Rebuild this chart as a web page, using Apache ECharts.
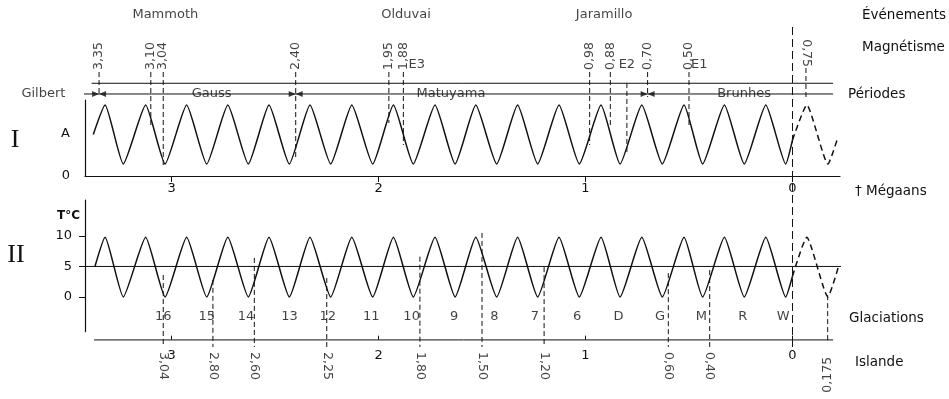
<!DOCTYPE html>
<html>
<head>
<meta charset="utf-8">
<title>Cycles climatiques et magnétisme</title>
<script src="https://cdn.jsdelivr.net/npm/echarts@6.0.0/dist/echarts.min.js"></script>
<style>
  html, body { margin: 0; padding: 0; background: #fff; }
  #chart { width: 949px; height: 399px; }
</style>
</head>
<body>
<div id="chart"></div>
<script>
// ages in millions of years (0 = present, negative = after the 0 line)
const ageTicks = [3, 2, 1, 0]
const crestAges = [3.321, 3.125, 2.927, 2.728, 2.529, 2.331, 2.129, 1.928, 1.727, 1.53, 1.328, 1.128, 0.925, 0.728, 0.524, 0.329, 0.129]
const troughAges = [3.233, 3.031, 2.83, 2.629, 2.431, 2.231, 2.028, 1.832, 1.63, 1.429, 1.231, 1.03, 0.833, 0.629, 0.434, 0.233, 0.033]
const futureAges = [-0.069, -0.171, -0.22] // dashed part: crest, trough, end

// curve I (amplitude A, 0..1) and curve II (T °C)
const ampLevels = { start: 0.546, crest: 0.934, trough: 0.158, now: 0.474, end: 0.513 }
const tempLevels = { start: 5, crest: 9.8, trough: 0, now: 3.4, end: 4.75 }
const startAges = [3.378, 3.37]

// magnétisme
const magAges = [3.35, 3.10, 3.04, 2.40, 1.95, 1.88, 0.98, 0.88, 0.70, 0.50]
const magLabels = ['3,35', '3,10', '3,04', '2,40', '1,95', '1,88', '0,98', '0,88', '0,70', '0,50']
const magLineEnds = [1.066, 0.645, 0.118, 0.21, 0.697, 0.408, 0.408, 0.671, 1.04, 0.645]
const futureMag = { age: -0.065, label: '0,75' }

// événements
const eventNames = ['Mammoth', 'Olduvai', 'Jaramillo']
const eventAges = [3.03, 1.867, 0.91]
const eNames = ['E3', 'E2', 'E1']
const eAges = [1.815, 0.80, 0.45]

// périodes
const periodNames = ['Gilbert', 'Gauss', 'Matuyama', 'Brunhes']
const periodAges = [3.619, 2.806, 1.65, 0.234]
const periodBounds = [3.35, 2.40, 0.70]

// glaciations
const glacNames = ['16', '15', '14', '13', '12', '11', '10', '9', '8', '7', '6', 'D', 'G', 'M', 'R', 'W']
const glacAges = [3.04, 2.83, 2.64, 2.43, 2.245, 2.035, 1.84, 1.635, 1.44, 1.245, 1.04, 0.84, 0.64, 0.44, 0.24, 0.045]

// Islande
const islandAges = [3.04, 2.80, 2.60, 2.25, 1.80, 1.50, 1.20, 0.60, 0.40]
const islandLabels = ['3,04', '2,80', '2,60', '2,25', '1,80', '1,50', '1,20', '0,60', '0,40']
const islandTops = [3.6, 2.8, 6.4, 3.1, 6.6, 10.5, 4.9, 3.9, 4.4]
const futureIsland = { age: -0.17, label: '0,175', top: 0.3 }

const ink = '#111'
const font = 'DejaVu Sans'

function wave (lv, startAge) {
  const pts = [[startAge, lv.start]]
  crestAges.forEach((a, i) => {
    pts.push([a, lv.crest])
    pts.push([troughAges[i], lv.trough])
  })
  pts.push([0, lv.now])
  return pts
}
function futureWave (lv) {
  return [[0, lv.now], [futureAges[0], lv.crest], [futureAges[1], lv.trough], [futureAges[2], lv.end]]
}

function seg (g, pts, type, width) {
  return {
    type: 'line', xAxisIndex: g, yAxisIndex: g, data: pts, symbol: 'none', clip: false, silent: true,
    lineStyle: { color: ink, width: width || 1, type: type || 'solid' }
  }
}
function curve (g, pts, type) {
  const s = seg(g, pts, type, 1.5)
  s.smooth = 0.17
  return s
}
function texts (g, items, label) {
  return {
    type: 'scatter', xAxisIndex: g, yAxisIndex: g, data: items, symbolSize: 1, clip: false, silent: true,
    itemStyle: { color: 'rgba(0,0,0,0)' },
    label: Object.assign({ show: true, position: 'inside', formatter: '{b}', color: ink, fontFamily: font, fontSize: 13 }, label)
  }
}

const chart = echarts.init(document.getElementById('chart'))

const series = []
// ---- I
series.push(seg(0, [[3.386, 1.22], [-0.196, 1.22]]))
series.push(seg(0, [[3.48, 1.079], [-0.196, 1.079]]))
magAges.forEach((a, i) => series.push(seg(0, [[a, 1.368], [a, magLineEnds[i]]], [5, 3])))
series.push(seg(0, [[eAges[1], 1.224], [eAges[1], 0.303]], [5, 3]))
series.push(seg(0, [[futureMag.age, 1.421], [futureMag.age, 1.0]], [5, 3]))
series.push(seg(0, [[0, 1.961], [0, -2.289]], [8, 4]))
series.push(curve(0, wave(ampLevels, startAges[0])))
series.push(curve(0, futureWave(ampLevels), [6, 4]))
series.push(texts(0, magAges.map((a, i) => ({ name: magLabels[i], value: [a, 1.395] })),
  { rotate: 90, align: 'left', verticalAlign: 'middle', fontSize: 12.5 }))
series.push(texts(0, [{ name: futureMag.label, value: [futureMag.age, 1.434] }],
  { rotate: -90, align: 'right', verticalAlign: 'middle', fontSize: 12.5 }))
series.push(texts(0, eventNames.map((n, i) => ({ name: n, value: [eventAges[i], 2.118] }))))
series.push(texts(0, eNames.map((n, i) => ({ name: n, value: [eAges[i], 1.46] }))))
series.push(texts(0, periodNames.map((n, i) => ({ name: n, value: [periodAges[i], 1.079] })),
  { backgroundColor: '#fff', padding: [0, 2] }))
series.push({
  type: 'scatter', xAxisIndex: 0, yAxisIndex: 0, clip: false, silent: true,
  symbol: 'triangle', symbolSize: [6, 7], itemStyle: { color: ink },
  data: periodBounds.flatMap(a => [
    { value: [a, 1.079], symbolRotate: -90, symbolOffset: [-3.5, 0] },
    { value: [a, 1.079], symbolRotate: 90, symbolOffset: [3.5, 0] }
  ])
})

// ---- II
series.push(seg(1, [[3.452, 5], [-0.268, 5]]))
series.push(seg(1, [[3.374, -7.05], [-0.196, -7.05]]))
islandAges.forEach((a, i) => series.push(seg(1, [[a, islandTops[i]], [a, -8.2]], [5, 3])))
series.push(seg(1, [[futureIsland.age, futureIsland.top], [futureIsland.age, -7.4]], [5, 3]))
series.push(curve(1, wave(tempLevels, startAges[1])))
series.push(curve(1, futureWave(tempLevels), [6, 4]))
series.push(texts(1, glacNames.map((n, i) => ({ name: n, value: [glacAges[i], -3.3] }))))
series.push(texts(1, islandAges.map((a, i) => ({ name: islandLabels[i], value: [a, -9.04] })),
  { rotate: -90, align: 'left', verticalAlign: 'middle', fontSize: 12.5 }))
series.push(texts(1, [{ name: futureIsland.label, value: [futureIsland.age, -15.7] }],
  { rotate: 90, align: 'left', verticalAlign: 'middle', fontSize: 12.5 }))

const axisText = { color: ink, fontFamily: font, fontSize: 13 }
const xBase = {
  type: 'value', inverse: true, min: -0.2295, max: 3.418,
  splitLine: { show: false }
}

const rowTitles = [
  ['Événements', 862, 15], ['Magnétisme', 862, 47], ['Périodes', 848, 94],
  ['† Mégaans', 855, 191], ['Glaciations', 849, 318], ['Islande', 855, 362]
]

chart.setOption({
  animation: false,
  backgroundColor: '#fff',
  grid: [
    { left: 85, right: 109, top: 100, height: 76 },
    { left: 85, right: 109, top: 200, height: 131.7 }
  ],
  xAxis: [
    Object.assign({}, xBase, {
      gridIndex: 0,
      axisLine: { onZero: false, lineStyle: { color: ink, width: 1.2 } },
      axisTick: { customValues: ageTicks, length: 6, lineStyle: { color: ink } },
      axisLabel: Object.assign({ customValues: ageTicks, margin: 6 }, axisText)
    }),
    Object.assign({}, xBase, {
      gridIndex: 1, offset: 8,
      axisLine: { show: false, onZero: false },
      axisTick: { customValues: ageTicks, inside: true, length: 4, lineStyle: { color: ink } },
      axisLabel: Object.assign({ customValues: ageTicks, margin: 9 }, axisText)
    })
  ],
  yAxis: [
    {
      type: 'value', gridIndex: 0, min: 0, max: 1,
      splitLine: { show: false },
      axisLine: { show: true, onZero: false, lineStyle: { color: ink, width: 1.2 } },
      axisTick: { show: false },
      axisLabel: Object.assign({ customValues: [0, 0.56], margin: 15, formatter: v => (v < 0.1 ? '0' : 'A') }, axisText)
    },
    {
      type: 'value', gridIndex: 1, min: -5.7, max: 15.9,
      splitLine: { show: false },
      axisLine: { show: true, onZero: false, lineStyle: { color: ink, width: 1.2 } },
      axisTick: { customValues: [0, 5, 10], length: 6, lineStyle: { color: ink } },
      axisLabel: Object.assign({ customValues: [0, 5, 10], margin: 13 }, axisText)
    }
  ],
  graphic: [
    ...rowTitles.map(([t, x, y]) => ({
      type: 'text', x, y, silent: true,
      style: { text: t, fill: ink, font: '13.5px "DejaVu Sans"', verticalAlign: 'middle', align: 'left' }
    })),
    { type: 'text', x: 80, y: 216, style: { text: 'T°C', fill: ink, font: 'bold 12px "DejaVu Sans"', align: 'right', verticalAlign: 'middle' } },
    { type: 'text', x: 15, y: 140, style: { text: 'I', fill: ink, font: '26px "Liberation Serif"', align: 'center', verticalAlign: 'middle' } },
    { type: 'text', x: 16, y: 255, style: { text: 'II', fill: ink, font: '26px "Liberation Serif"', align: 'center', verticalAlign: 'middle' } }
  ],
  series
})
</script>
</body>
</html>
